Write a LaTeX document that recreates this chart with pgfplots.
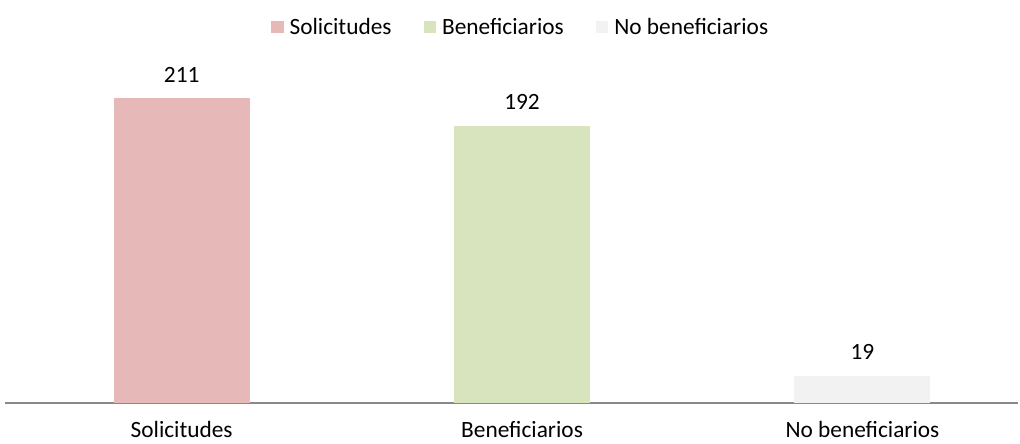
\documentclass[border=0pt]{standalone}
\usepackage{fontspec}
\setmainfont{Carlito}
\usepackage{pgfplots}
\pgfplotsset{compat=1.18}
\definecolor{cSol}{HTML}{E6B9B8}
\definecolor{cBen}{HTML}{D7E4BD}
\definecolor{cNo}{HTML}{F2F2F2}
\definecolor{cAx}{HTML}{898989}
\newcommand{\cf}{\fontsize{17.5}{20}\selectfont}
\begin{document}
\begin{tikzpicture}
\begin{axis}[
  at={(3.75pt,30pt)}, anchor=south west,
  scale only axis, width=759.75pt, height=270.75pt,
  xmin=-0.519, xmax=2.457, ymin=0, ymax=250,
  hide y axis,
  axis x line*=bottom,
  x axis line style={color=cAx, line width=1.5pt},
  xtick={0,1,2}, xticklabels={Solicitudes,Beneficiarios,No beneficiarios},
  major tick length=0pt,
  xticklabel style={anchor=base, yshift=-25.5pt, font=\cf},
  /pgf/number format/assume math mode=true,
  ybar, bar width=102pt, bar shift=0pt,
  nodes near coords,
  every node near coord/.append style={anchor=base, inner sep=0pt, yshift=12pt, font=\cf, text=black},
  legend columns=3,
  legend style={at={(0.508,1)}, anchor=center, yshift=11.25pt, draw=none, fill=none,
    font=\cf, nodes={inner sep=0pt},
    /tikz/every odd column/.append style={column sep=4.5pt},
    /tikz/every even column/.append style={column sep=24pt}},
  legend image code/.code={\fill[#1] (0pt,-4.7pt) rectangle (9.4pt,4.7pt);},
  legend cell align=left,
]
\addplot[fill=cSol, draw=none] coordinates {(0,211)};
\addlegendentry{Solicitudes}
\addplot[fill=cBen, draw=none] coordinates {(1,192)};
\addlegendentry{Beneficiarios}
\addplot[fill=cNo, draw=none] coordinates {(2,19)};
\addlegendentry{No beneficiarios}
\end{axis}
\pgfresetboundingbox
\useasboundingbox (0,0) rectangle (765pt,332.25pt);
\end{tikzpicture}
\end{document}
